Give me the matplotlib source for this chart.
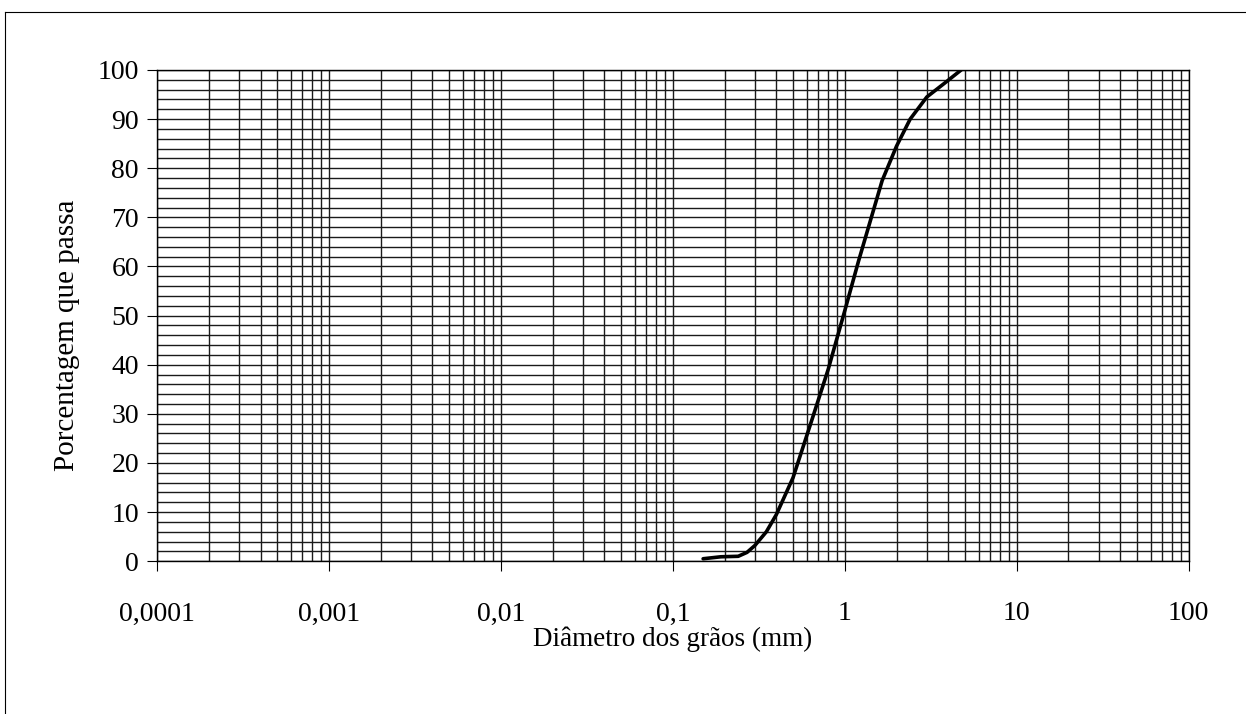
import numpy as np
import matplotlib
matplotlib.use('Agg')
import matplotlib.pyplot as plt
from matplotlib.ticker import LogLocator, FixedLocator, NullFormatter

# grain size curve
diametro = [0.15, 0.19, 0.24, 0.27, 0.30, 0.35, 0.40, 0.50, 0.64, 0.80, 1.0, 1.2,
            1.4, 1.65, 2.0, 2.4, 3.0, 3.8, 4.75]
passa = [0.5, 0.9, 1.0, 1.8, 3.2, 6.0, 9.5, 17.0, 28.5, 39.0, 51.0, 61.0,
         69.0, 77.5, 84.5, 90.0, 94.5, 97.3, 100.0]

x_ticks = [0.0001, 0.001, 0.01, 0.1, 1, 10, 100]
x_labels = ['0,0001', '0,001', '0,01', '0,1', '1', '10', '100']
y_ticks = [0, 10, 20, 30, 40, 50, 60, 70, 80, 90, 100]

plt.rcParams['font.family'] = ['Liberation Serif', 'DejaVu Serif']

fig = plt.figure(figsize=(12.46, 7.14), dpi=100)
ax = fig.add_axes([0.126, 0.214, 0.828, 0.688])

ax.set_xscale('log')
ax.set_xlim(0.0001, 100)
ax.set_ylim(0, 100)

# grid like log paper: minor lines every 2 %, every sub-decade
ax.xaxis.set_major_locator(FixedLocator(x_ticks))
ax.set_xticklabels(x_labels)
ax.xaxis.set_minor_locator(LogLocator(base=10, subs=np.arange(2, 10), numticks=100))
ax.xaxis.set_minor_formatter(NullFormatter())
ax.set_yticks(y_ticks)
ax.set_yticks(np.arange(0, 101, 2), minor=True)

ax.grid(True, which='both', color='#1a1a1a', linewidth=1.0)
ax.set_axisbelow(True)

ax.tick_params(axis='both', which='major', labelsize=20, length=7, width=0.8,
               direction='out', pad=6)
ax.tick_params(axis='both', which='minor', length=0)
ax.tick_params(axis='x', which='major', pad=22)

for s in ax.spines.values():
    s.set_linewidth(1.0)
    s.set_color('black')

ax.plot(diametro, passa, color='black', linewidth=2.6, solid_capstyle='round')

ax.set_xlabel('Diâmetro dos grãos (mm)', fontsize=19.5, labelpad=0)
ax.set_ylabel('Porcentagem que passa', fontsize=21)
ax.yaxis.set_label_coords(-0.075, 0.46)

# outer frame of the scanned page (top and left edges only)
fig.add_artist(plt.Line2D([0.004, 1.0], [0.983, 0.983], transform=fig.transFigure,
                          color='black', linewidth=0.8))
fig.add_artist(plt.Line2D([0.004, 0.004], [0.0, 0.983], transform=fig.transFigure,
                          color='black', linewidth=0.8))

fig.savefig('out.png', dpi=100)
